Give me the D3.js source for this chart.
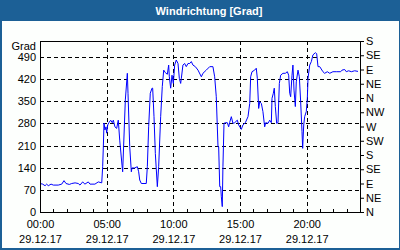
<!DOCTYPE html>
<html>
<head>
<meta charset="utf-8">
<script src="https://cdn.jsdelivr.net/npm/d3@7"></script>
<style>
  html, body { margin: 0; padding: 0; background: #fff; }
  svg text { font-family: "Liberation Sans", Arial, sans-serif; font-size: 11px; }
</style>
</head>
<body>
<div id="chart"></div>
<script>
// Stunden seit Mitternacht und Windrichtung in Grad
const hours = [
  0.00, 0.20, 0.38, 0.50, 0.62, 0.83, 1.00, 1.37, 1.63, 1.80, 1.95, 2.20, 2.38, 2.63, 2.87,
  3.00, 3.20, 3.37, 3.62, 3.75, 4.12, 4.37, 4.63, 4.70, 4.75, 4.80, 4.87, 4.95, 5.00, 5.08,
  5.17, 5.30, 5.42, 5.50, 5.62, 5.75, 5.87, 5.98, 6.15, 6.20, 6.40, 6.55, 6.60, 6.73, 6.85,
  6.90, 7.10, 7.30, 7.40, 7.48, 7.60, 7.97, 8.05, 8.15, 8.27, 8.40, 8.45, 8.55, 8.65, 8.80,
  8.90, 9.05, 9.17, 9.28, 9.40, 9.55, 9.65, 9.70, 9.80, 9.90, 10.00, 10.10, 10.22, 10.35, 10.45,
  10.55, 10.60, 10.72, 10.85, 10.97, 11.10, 11.23, 11.35, 11.47, 11.65, 11.85, 12.10, 12.22, 12.47, 12.73,
  12.97, 13.10, 13.22, 13.35, 13.40, 13.48, 13.55, 13.60, 13.67, 13.72, 13.80, 13.90, 14.05, 14.15, 14.22,
  14.35, 14.47, 14.60, 14.80, 14.90, 15.10, 15.22, 15.40, 15.60, 15.73, 15.80, 15.90, 16.10, 16.22, 16.30,
  16.40, 16.48, 16.60, 16.72, 16.85, 16.93, 17.10, 17.23, 17.35, 17.40, 17.50, 17.57, 17.65, 17.75, 17.85,
  17.95, 18.05, 18.22, 18.40, 18.55, 18.65, 18.73, 18.80, 18.90, 18.97, 19.05, 19.15, 19.22, 19.35, 19.45,
  19.55, 19.65, 19.70, 19.78, 19.85, 19.97, 20.05, 20.10, 20.23, 20.35, 20.47, 20.65, 20.75, 20.85, 20.98,
  21.22, 21.35, 21.55, 21.73, 21.97, 22.22, 22.55, 22.65, 22.85, 22.97, 23.15, 23.35, 23.60, 23.85
];
const grad = [
  90, 88, 83, 88, 83, 88, 85, 85, 88, 99, 90, 87, 90, 92, 90,
  85, 95, 88, 95, 88, 88, 95, 92, 143, 206, 281, 259, 269, 249, 275,
  282, 290, 282, 290, 269, 264, 290, 227, 148, 127, 354, 438, 375, 206, 127,
  139, 139, 143, 127, 101, 90, 90, 143, 269, 375, 391, 391, 301, 185, 80,
  143, 301, 396, 448, 440, 435, 464, 427, 391, 432, 406, 464, 480, 469, 422,
  406, 422, 464, 469, 459, 469, 469, 475, 464, 459, 448, 427, 438, 448, 459,
  459, 427, 364, 206, 206, 80, 80, 48, 17, 143, 280, 282, 282, 269, 282,
  301, 280, 282, 290, 275, 261, 275, 282, 301, 343, 427, 443, 448, 454, 422,
  327, 348, 343, 317, 269, 282, 280, 290, 282, 359, 375, 391, 333, 280, 282,
  406, 432, 438, 438, 443, 432, 375, 364, 432, 464, 385, 333, 411, 448, 427,
  348, 254, 201, 275, 301, 317, 359, 422, 464, 475, 496, 503, 500, 459, 459,
  443, 438, 443, 438, 443, 443, 443, 448, 450, 443, 446, 443, 446, 444
];

const gradTicks = [0, 70, 140, 210, 280, 350, 420, 490];
const himmelsTicks = ["N", "NE", "E", "SE", "S", "SW", "W", "NW", "N", "NE", "E", "SE", "S"];
const zeitTicks = ["00:00", "05:00", "10:00", "15:00", "20:00"];
const datum = "29.12.17";
const titel = "Windrichtung [Grad]";

const W = 400, H = 250;
const pL = 40, pR = 360, pT = 41, pB = 212;
const blau = "#1c6096";
const schrift = "Liberation Sans, Arial, sans-serif";

const svg = d3.select("#chart").append("svg")
  .attr("width", W).attr("height", H);

// Rahmen + Titelleiste
svg.append("rect").attr("width", W).attr("height", H).attr("fill", blau);
svg.append("rect").attr("x", 2).attr("y", 21).attr("width", W - 3).attr("height", H - 23)
  .attr("fill", "#fdfffd");
svg.append("text").attr("x", 209).attr("y", 15).attr("text-anchor", "middle")
  .attr("fill", "#fff").style("font-weight", "bold").text(titel);

const x = d3.scaleLinear().domain([0, 24]).range([pL, pR]);
const y = d3.scaleLinear().domain([0, 540]).range([pB, pT]);
const yr = v => Math.round(y(v)) + 0.5;
const xr = v => Math.round(x(v)) + 0.5;

const g = svg.append("g");

// Gitterlinien
g.selectAll(".hgrid").data(gradTicks.slice(1)).enter().append("line")
  .attr("x1", pL).attr("x2", pR)
  .attr("y1", yr).attr("y2", yr)
  .attr("stroke", "#000").attr("stroke-dasharray", "4,3");
g.selectAll(".vgrid").data([5, 10, 15, 20]).enter().append("line")
  .attr("x1", xr).attr("x2", xr)
  .attr("y1", pT).attr("y2", pB)
  .attr("stroke", "#000").attr("stroke-dasharray", "4,3");

// Stundenstriche unten
g.selectAll(".mtick").data(d3.range(1, 24)).enter().append("line")
  .attr("x1", xr).attr("x2", xr)
  .attr("y1", pB - 3).attr("y2", pB)
  .attr("stroke", "#000");

// Linie
const linie = d3.line().x((d, i) => x(hours[i])).y(d => y(d));
g.append("path").datum(grad)
  .attr("d", linie)
  .attr("fill", "none").attr("stroke", "#0000ff").attr("stroke-width", 1);

// Plotrahmen
g.append("rect").attr("x", pL + 0.5).attr("y", pT + 0.5)
  .attr("width", pR - pL).attr("height", pB - pT)
  .attr("fill", "none").attr("stroke", "#000");

// linke Achse
const axL = svg.append("g").attr("transform", `translate(${pL},0)`)
  .call(d3.axisLeft(y).tickValues(gradTicks).tickSize(0).tickPadding(4));
axL.select(".domain").remove();
axL.selectAll("text").style("font-family", schrift).style("font-size", "11px").attr("fill", "#000");
svg.append("text").attr("x", 36).attr("y", 50).attr("text-anchor", "end").text("Grad");

// rechte Achse (Himmelsrichtungen)
const axR = svg.append("g").attr("transform", `translate(${pR + 1},0)`)
  .call(d3.axisRight(y).tickValues(d3.range(0, 541, 45)).tickSize(3).tickPadding(2)
    .tickFormat((d, i) => himmelsTicks[i]));
axR.select(".domain").remove();
axR.selectAll("line").attr("stroke", "#000");
axR.selectAll("text").style("font-family", schrift).style("font-size", "11px").attr("fill", "#000");

// untere Achse
const axB = svg.append("g").attr("transform", `translate(0,${pB})`)
  .call(d3.axisBottom(x).tickValues([0, 5, 10, 15, 20]).tickSize(0).tickPadding(0)
    .tickFormat((d, i) => zeitTicks[i]));
axB.select(".domain").remove();
axB.selectAll("text").each(function () {
  const t = d3.select(this);
  const lab = t.text();
  t.text(null).attr("y", 0).attr("dy", null)
    .style("font-family", schrift).style("font-size", "11px").attr("fill", "#000");
  t.append("tspan").attr("x", 0).attr("y", 16).text(lab);
  t.append("tspan").attr("x", 0).attr("y", 31).text(datum);
});
</script>
</body>
</html>
